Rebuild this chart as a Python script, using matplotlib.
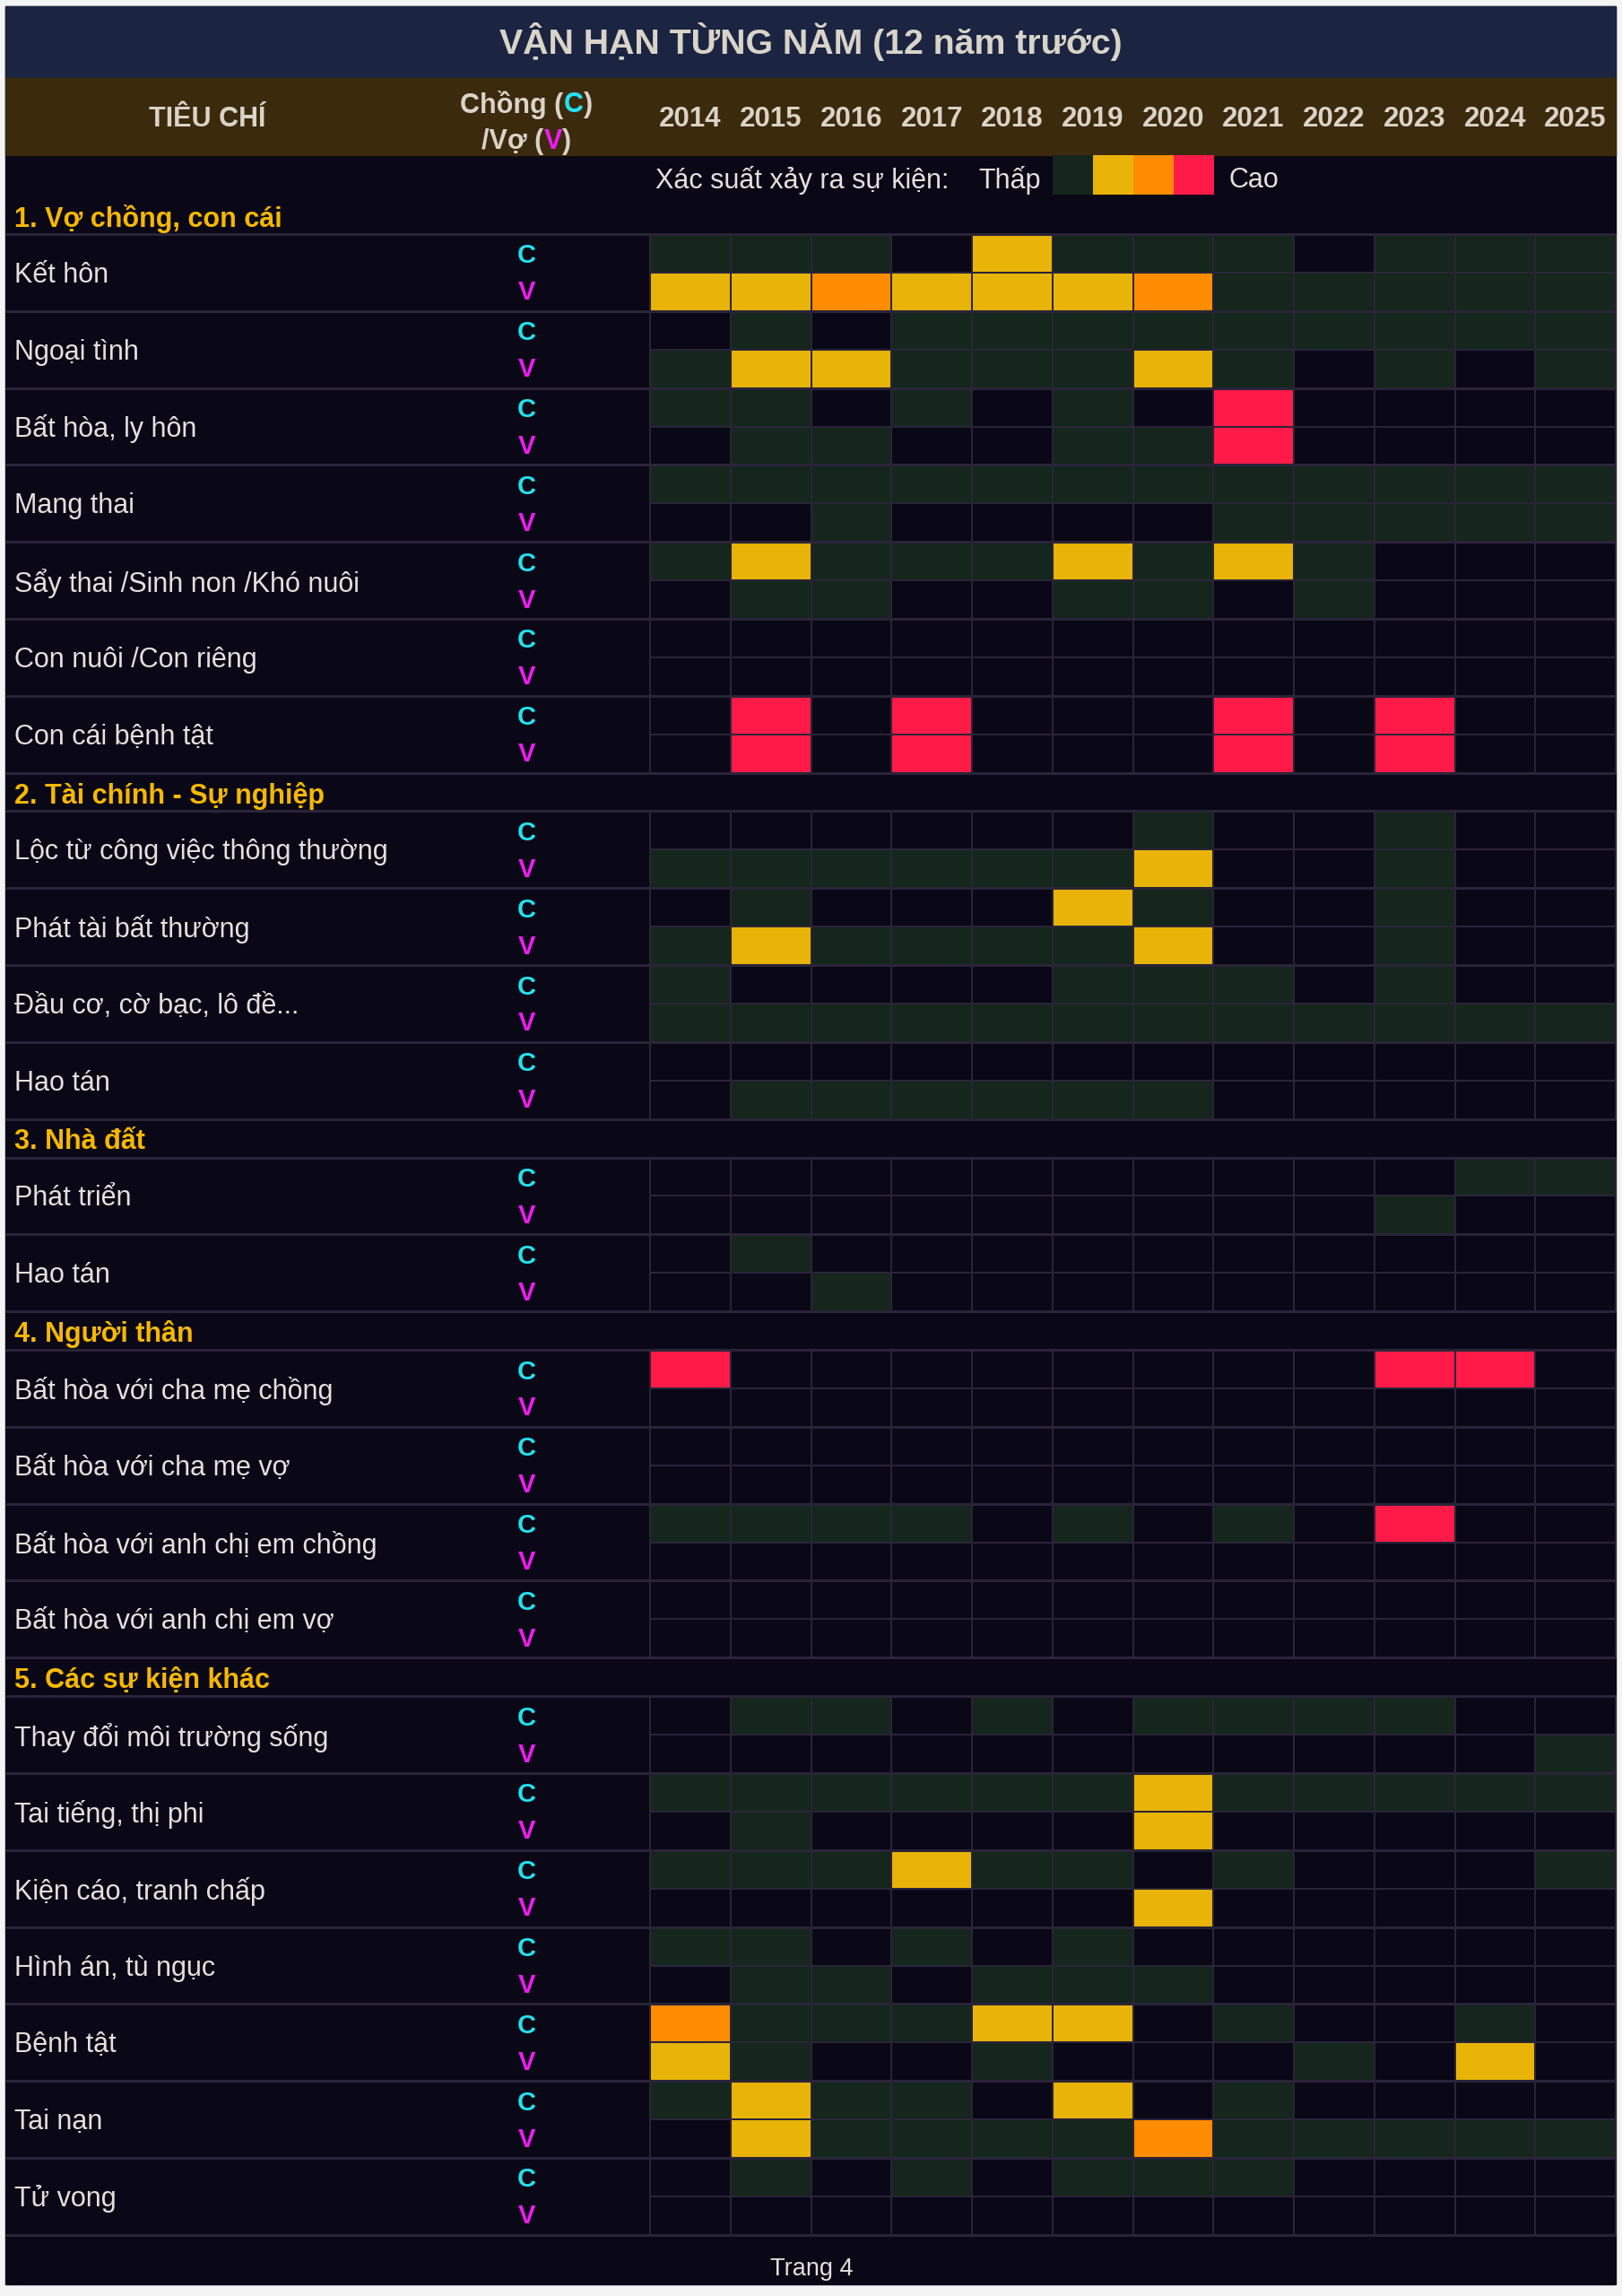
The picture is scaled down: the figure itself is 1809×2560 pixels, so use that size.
import matplotlib
matplotlib.use("Agg")
import matplotlib.pyplot as plt
from matplotlib.colors import ListedColormap, BoundaryNorm
from matplotlib.patches import Rectangle
import numpy as np

plt.rcParams['font.family'] = ['Liberation Sans', 'DejaVu Sans']

# ---- data (0 = none, 1 = thấp, 2, 3, 4 = cao) ----
years = [2014, 2015, 2016, 2017, 2018, 2019, 2020, 2021, 2022, 2023, 2024, 2025]

sec_titles = ["1. Vợ chồng, con cái", "2. Tài chính - Sự nghiệp", "3. Nhà đất",
              "4. Người thân", "5. Các sự kiện khác"]

sec1_items = ["Kết hôn", "Ngoại tình", "Bất hòa, ly hôn", "Mang thai",
              "Sẩy thai /Sinh non /Khó nuôi", "Con nuôi /Con riêng", "Con cái bệnh tật"]
sec1_c = [[1, 1, 1, 0, 2, 1, 1, 1, 0, 1, 1, 1],
          [0, 1, 0, 1, 1, 1, 1, 1, 1, 1, 1, 1],
          [1, 1, 0, 1, 0, 1, 0, 4, 0, 0, 0, 0],
          [1, 1, 1, 1, 1, 1, 1, 1, 1, 1, 1, 1],
          [1, 2, 1, 1, 1, 2, 1, 2, 1, 0, 0, 0],
          [0, 0, 0, 0, 0, 0, 0, 0, 0, 0, 0, 0],
          [0, 4, 0, 4, 0, 0, 0, 4, 0, 4, 0, 0]]
sec1_v = [[2, 2, 3, 2, 2, 2, 3, 1, 1, 1, 1, 1],
          [1, 2, 2, 1, 1, 1, 2, 1, 0, 1, 0, 1],
          [0, 1, 1, 0, 0, 1, 1, 4, 0, 0, 0, 0],
          [0, 0, 1, 0, 0, 0, 0, 1, 1, 1, 1, 1],
          [0, 1, 1, 0, 0, 1, 1, 0, 1, 0, 0, 0],
          [0, 0, 0, 0, 0, 0, 0, 0, 0, 0, 0, 0],
          [0, 4, 0, 4, 0, 0, 0, 4, 0, 4, 0, 0]]

sec2_items = ["Lộc từ công việc thông thường", "Phát tài bất thường",
              "Đầu cơ, cờ bạc, lô đề...", "Hao tán"]
sec2_c = [[0, 0, 0, 0, 0, 0, 1, 0, 0, 1, 0, 0],
          [0, 1, 0, 0, 0, 2, 1, 0, 0, 1, 0, 0],
          [1, 0, 0, 0, 0, 1, 1, 1, 0, 1, 0, 0],
          [0, 0, 0, 0, 0, 0, 0, 0, 0, 0, 0, 0]]
sec2_v = [[1, 1, 1, 1, 1, 1, 2, 0, 0, 1, 0, 0],
          [1, 2, 1, 1, 1, 1, 2, 0, 0, 1, 0, 0],
          [1, 1, 1, 1, 1, 1, 1, 1, 1, 1, 1, 1],
          [0, 1, 1, 1, 1, 1, 1, 0, 0, 0, 0, 0]]

sec3_items = ["Phát triển", "Hao tán"]
sec3_c = [[0, 0, 0, 0, 0, 0, 0, 0, 0, 0, 1, 1],
          [0, 1, 0, 0, 0, 0, 0, 0, 0, 0, 0, 0]]
sec3_v = [[0, 0, 0, 0, 0, 0, 0, 0, 0, 1, 0, 0],
          [0, 0, 1, 0, 0, 0, 0, 0, 0, 0, 0, 0]]

sec4_items = ["Bất hòa với cha mẹ chồng", "Bất hòa với cha mẹ vợ",
              "Bất hòa với anh chị em chồng", "Bất hòa với anh chị em vợ"]
sec4_c = [[4, 0, 0, 0, 0, 0, 0, 0, 0, 4, 4, 0],
          [0, 0, 0, 0, 0, 0, 0, 0, 0, 0, 0, 0],
          [1, 1, 1, 1, 0, 1, 0, 1, 0, 4, 0, 0],
          [0, 0, 0, 0, 0, 0, 0, 0, 0, 0, 0, 0]]
sec4_v = [[0, 0, 0, 0, 0, 0, 0, 0, 0, 0, 0, 0],
          [0, 0, 0, 0, 0, 0, 0, 0, 0, 0, 0, 0],
          [0, 0, 0, 0, 0, 0, 0, 0, 0, 0, 0, 0],
          [0, 0, 0, 0, 0, 0, 0, 0, 0, 0, 0, 0]]

sec5_items = ["Thay đổi môi trường sống", "Tai tiếng, thị phi", "Kiện cáo, tranh chấp",
              "Hình án, tù ngục", "Bệnh tật", "Tai nạn", "Tử vong"]
sec5_c = [[0, 1, 1, 0, 1, 0, 1, 1, 1, 1, 0, 0],
          [1, 1, 1, 1, 1, 1, 2, 1, 1, 1, 1, 1],
          [1, 1, 1, 2, 1, 1, 0, 1, 0, 0, 0, 1],
          [1, 1, 0, 1, 0, 1, 0, 0, 0, 0, 0, 0],
          [3, 1, 1, 1, 2, 2, 0, 1, 0, 0, 1, 0],
          [1, 2, 1, 1, 0, 2, 0, 1, 0, 0, 0, 0],
          [0, 1, 0, 1, 0, 1, 1, 1, 0, 0, 0, 0]]
sec5_v = [[0, 0, 0, 0, 0, 0, 0, 0, 0, 0, 0, 1],
          [0, 1, 0, 0, 0, 0, 2, 0, 0, 0, 0, 0],
          [0, 0, 0, 0, 0, 0, 2, 0, 0, 0, 0, 0],
          [0, 1, 1, 0, 1, 1, 1, 0, 0, 0, 0, 0],
          [2, 1, 0, 0, 1, 0, 0, 0, 1, 0, 2, 0],
          [0, 2, 1, 1, 1, 1, 3, 1, 1, 1, 1, 1],
          [0, 0, 0, 0, 0, 0, 0, 0, 0, 0, 0, 0]]

legend_levels = [1, 2, 3, 4]

sections = [(sec1_items, sec1_c, sec1_v), (sec2_items, sec2_c, sec2_v),
            (sec3_items, sec3_c, sec3_v), (sec4_items, sec4_c, sec4_v),
            (sec5_items, sec5_c, sec5_v)]

# ---- colours ----
BG = '#0a0716'
LINE = '#2a2438'
TXT = '#e4e0dc'
HDR_TXT = '#d9d3c8'
SEC = '#f6b800'
CYAN = '#22e2f0'
MAG = '#ee1cf0'
cmap = ListedColormap([BG, '#15261c', '#e8b408', '#ff8c00', '#ff1a47'])
norm = BoundaryNorm([-0.5, 0.5, 1.5, 2.5, 3.5, 4.5], 5)

W, H = 1809, 2560
fig = plt.figure(figsize=(W / 100, H / 100), dpi=100, facecolor='#f4f4f4')
ax = fig.add_axes([0, 0, 1, 1])
ax.set_xlim(0, W)
ax.set_ylim(H, 0)
ax.axis('off')

px0, px1, py0, py1 = 6, 1802, 7, 2547
ax.add_patch(Rectangle((px0, py0), px1 - px0, py1 - py0, color=BG, zorder=0))
ax.add_patch(Rectangle((px0, py0), px1 - px0, 80, color='#1b2542', zorder=1))
ax.add_patch(Rectangle((px0, 87), px1 - px0, 86, color='#3b2a0c', zorder=1))

ax.text(W / 2, 47, "VẬN HẠN TỪNG NĂM (12 năm trước)", ha='center', va='center',
        fontsize=28.3, fontweight='bold', color=HDR_TXT, zorder=3)

gx0 = 725
cw = (px1 - gx0) / len(years)
u = 42.9
xedges = gx0 + cw * np.arange(len(years) + 1)
xcent = xedges[:-1] + cw / 2

# header row
hfs = 22.5
ax.text(231, 133, "TIÊU CHÍ", ha='center', va='center', fontsize=22,
        fontweight='bold', color=HDR_TXT, zorder=3)
for x, yr in zip(xcent, years):
    ax.text(x, 133, str(yr), ha='center', va='center', fontsize=hfs,
            fontweight='bold', color=HDR_TXT, zorder=3)

renderer = fig.canvas.get_renderer()


def pieces(xc, y, parts, **kw):
    txts = [ax.text(0, y, s, color=c, ha='left', va='center', zorder=3, **kw) for s, c in parts]
    widths = [t.get_window_extent(renderer).width for t in txts]
    x = xc - sum(widths) / 2
    for t, w in zip(txts, widths):
        t.set_x(x)
        x += w


pieces(587, 117, [("Chồng (", HDR_TXT), ("C", CYAN), (")", HDR_TXT)], fontsize=22, fontweight='bold')
pieces(587, 158, [("/Vợ (", HDR_TXT), ("V", MAG), (")", HDR_TXT)], fontsize=22, fontweight='bold')

# legend row
lfs = 22
ax.text(731, 201, "Xác suất xảy ra sự kiện:", ha='left', va='center', fontsize=lfs, color=TXT, zorder=3)
ax.text(1091, 201, "Thấp", ha='left', va='center', fontsize=lfs, color=TXT, zorder=3)
lx = 1174 + 45 * np.arange(len(legend_levels) + 1)
ax.pcolormesh(lx, [173, 217], np.array([legend_levels]), cmap=cmap, norm=norm, zorder=2)
ax.text(1371, 201, "Cao", ha='left', va='center', fontsize=lfs, color=TXT, zorder=3)

# body
y = 261 - u
for title, (items, cvals, vvals) in zip(sec_titles, sections):
    ax.text(16, y + u / 2 + 4, title, ha='left', va='center', fontsize=22,
            fontweight='bold', color=SEC, zorder=3)
    y += u
    ax.hlines(y, px0, px1, color=LINE, lw=2.2, zorder=4)
    for name, c, v in zip(items, cvals, vvals):
        ax.pcolormesh(xedges, [y, y + u, y + 2 * u], np.array([c, v]), cmap=cmap, norm=norm,
                      edgecolors=LINE, linewidth=1.3, zorder=2)
        ax.text(16, y + u + 3, name, ha='left', va='center', fontsize=22, color=TXT, zorder=3)
        ax.text(587, y + u / 2 + 3, "C", ha='center', va='center', fontsize=21,
                fontweight='bold', color=CYAN, zorder=3)
        ax.text(587, y + 1.5 * u + 1, "V", ha='center', va='center', fontsize=21,
                fontweight='bold', color=MAG, zorder=3)
        y += 2 * u
        ax.hlines(y, px0, px1, color=LINE, lw=2.2, zorder=4)

ax.text(905, 2530, "Trang 4", ha='center', va='center', fontsize=19.5, color=TXT, zorder=3)

fig.savefig("out.png", dpi=100, facecolor=fig.get_facecolor())
